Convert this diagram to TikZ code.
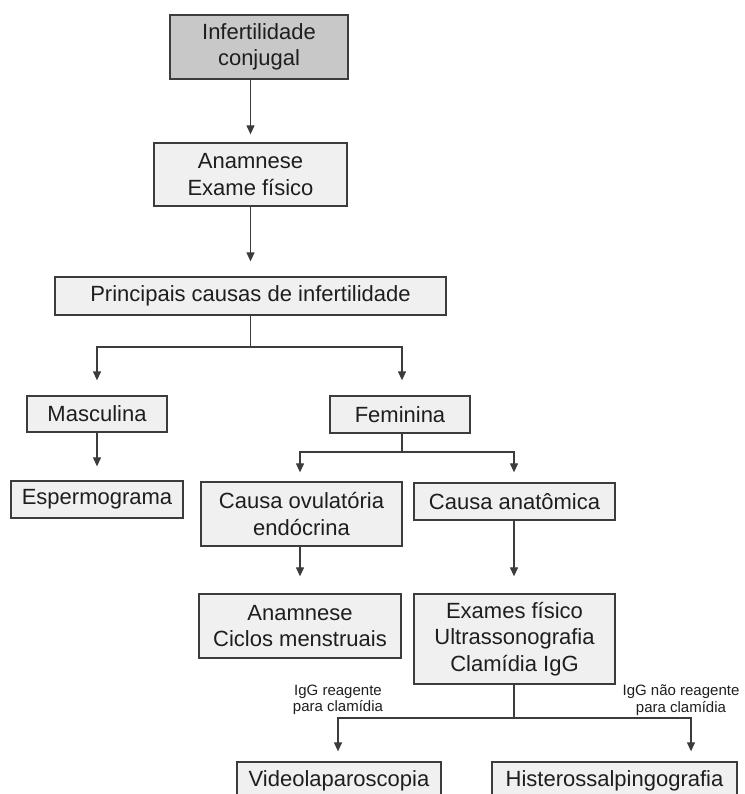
\documentclass[tikz,border=0pt]{standalone}
\usepackage{fontspec}
\setmainfont{Liberation Sans}
\usetikzlibrary{arrows.meta}
\definecolor{boxfill}{HTML}{F0F0F0}
\definecolor{topfill}{HTML}{C8C8C8}
\definecolor{edge}{HTML}{3C3C3C}
\definecolor{ink}{HTML}{1E1E1E}
\tikzset{
  box/.style={draw=edge, line width=1.3pt, fill=boxfill, text=ink, inner sep=0pt,
    align=center, font=\fontsize{22}{26.5}\selectfont},
  conn/.style={draw=edge, line width=1.2pt},
  arr/.style={conn, -{Triangle[length=9pt,width=8pt]}},
  lab/.style={text=ink, align=center, inner sep=0pt, font=\fontsize{15}{16.5}\selectfont}
}
\begin{document}
\begin{tikzpicture}[x=1pt,y=-1pt]
\useasboundingbox (0,0) rectangle (744,794);
\clip (0,0) rectangle (744,794);
\node[box, fill=topfill, minimum width=178pt, minimum height=64pt] (top) at (259,47) {Infertilidade\\conjugal};
\node[box, minimum width=193pt, minimum height=63pt] (anam) at (250.5,174.5) {Anamnese\\Exame físico};
\node[box, minimum width=391pt, minimum height=38pt] (princ) at (250.5,296) {Principais causas de infertilidade};
\node[box, minimum width=140pt, minimum height=36pt] (masc) at (97,414) {Masculina};
\node[box, minimum width=172pt, minimum height=37pt] (esp) at (97,499.5) {Espermograma};
\node[box, minimum width=140pt, minimum height=37pt] (fem) at (400,414.5) {Feminina};
\node[box, minimum width=201pt, minimum height=64pt] (ovul) at (301.5,514) {Causa ovulatória\\endócrina};
\node[box, minimum width=201pt, minimum height=37pt] (anat) at (514.5,501.5) {Causa anatômica};
\node[box, minimum width=202pt, minimum height=64pt] (cic) at (300,626) {Anamnese\\Ciclos menstruais};
\node[box, minimum width=201pt, minimum height=90pt] (exa) at (514.5,639) {Exames físico\\Ultrassonografia\\Clamídia IgG};
\node[box, minimum width=204pt, minimum height=37pt] (vid) at (339,780.5) {Videolaparoscopia};
\node[box, minimum width=245pt, minimum height=37pt] (his) at (614.5,780.5) {Histerossalpingografia};
\node[lab] (l1) at (338,700) {IgG reagente\\para clamídia};
\node[lab] (l2) at (681,700) {IgG não reagente\\para clamídia};
% connectors
\draw[arr, shorten >=8pt] (top.south -| anam.north) -- (anam.north);
\draw[arr, shorten >=15pt] (anam.south) -- (princ.north);
\coordinate (b1) at (250.5,347);
\draw[conn] (princ.south) -- (b1);
\draw[arr, shorten >=15pt] (b1) -| (masc.north);
\draw[arr, shorten >=15pt] (b1) -| ([xshift=2pt]fem.north);
\draw[arr, shorten >=14pt] (masc.south) -- (esp.north);
\coordinate (b2) at (402,452);
\draw[conn] ([xshift=2pt]fem.south) -- (b2);
\draw[arr, shorten >=9pt] (b2) -| ([xshift=-1.5pt]ovul.north);
\draw[arr, shorten >=10pt] (b2) -| ([xshift=-0.5pt]anat.north);
\draw[arr, shorten >=17pt] ([xshift=-1.5pt]ovul.south) -- ([xshift=-1.5pt]ovul.south |- cic.north);
\draw[arr, shorten >=17pt] ([xshift=-0.5pt]anat.south) -- ([xshift=-0.5pt]anat.south |- exa.north);
\coordinate (b3) at (514,718);
\draw[conn] ([xshift=-0.5pt]exa.south) -- (b3);
\draw[arr, shorten >=10pt] (b3) -| ([xshift=-1pt]vid.north);
\draw[arr, shorten >=10pt] (b3) -| ([xshift=76.5pt]his.north);
\end{tikzpicture}
\end{document}
